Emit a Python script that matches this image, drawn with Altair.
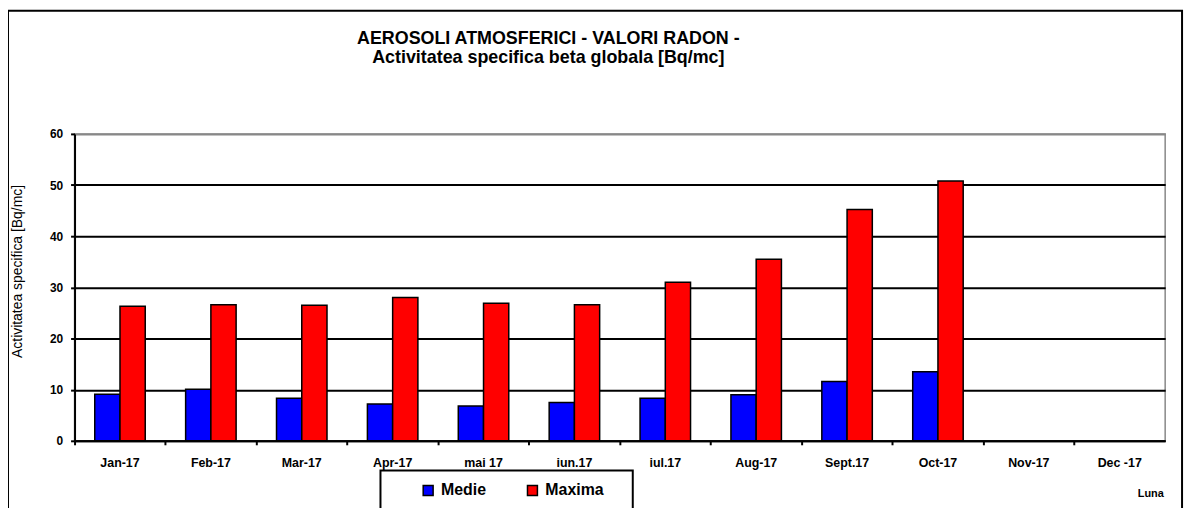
import altair as alt
import pandas as pd

months = ["Jan-17", "Feb-17", "Mar-17", "Apr-17", "mai 17", "iun.17",
          "iul.17", "Aug-17", "Sept.17", "Oct-17", "Nov-17", "Dec -17"]
medie = [9.1, 10.1, 8.3, 7.2, 6.8, 7.5, 8.3, 9.0, 11.6, 13.5, None, None]
maxima = [26.3, 26.6, 26.5, 28.0, 26.9, 26.6, 31.0, 35.5, 45.2, 50.8, None, None]
series = ["Medie", "Maxima"]
colors = ["#0000FF", "#FF0000"]
y_ticks = [0, 10, 20, 30, 40, 50, 60]

rows = []
for m, a, b in zip(months, medie, maxima):
    rows.append({"Luna": m, "Serie": "Medie", "Valoare": a})
    rows.append({"Luna": m, "Serie": "Maxima", "Valoare": b})
df = pd.DataFrame(rows)

FONT = "Liberation Sans"
W, H = 1098, 309

bars = alt.Chart(df).mark_bar(stroke="black", strokeWidth=1.5).encode(
    x=alt.X("Luna:N", sort=months,
            scale=alt.Scale(domain=months, paddingInner=0, paddingOuter=0),
            axis=alt.Axis(title="Luna", labelAngle=0, bandPosition=0,
                          labelFont=FONT, labelFontSize=12.5, labelFontWeight="bold",
                          labelColor="black", labelPadding=12,
                          domainColor="black", domainWidth=2,
                          tickColor="black", tickWidth=2, tickSize=4,
                          titleFont=FONT, titleFontSize=11, titleFontWeight="bold",
                          titleColor="black", titleX=1083, titleY=53,
                          titleAlign="center", titleBaseline="middle")),
    xOffset=alt.XOffset("Serie:N", sort=series,
                        scale=alt.Scale(domain=series, paddingOuter=0.8, paddingInner=0)),
    y=alt.Y("Valoare:Q",
            scale=alt.Scale(domain=[0, 60], nice=False),
            axis=alt.Axis(title="Activitatea specifica  [Bq/mc]", values=y_ticks,
                          labelFont=FONT, labelFontSize=12, labelFontWeight="bold",
                          labelColor="black", labelPadding=8,
                          domainColor="black", domainWidth=2,
                          tickColor="black", tickWidth=2, tickSize=4,
                          grid=True, gridWidth=2,
                          gridColor={"condition": {"test": "datum.value == 60", "value": "#888888"},
                                     "value": "black"},
                          titleFont=FONT, titleFontSize=14, titleFontWeight="normal",
                          titleColor="black", titleX=-57, titleY=138, titleAngle=-90,
                          titleAlign="center", titleBaseline="middle")),
    color=alt.Color("Serie:N", sort=series,
                    scale=alt.Scale(domain=series, range=colors),
                    legend=alt.Legend(title=None, orient="none", direction="horizontal",
                                      legendX=348, legendY=351, padding=0,
                                      symbolType="square", symbolSize=100,
                                      symbolStrokeColor="black", symbolStrokeWidth=1.5,
                                      labelFont=FONT, labelFontSize=16, labelFontWeight="bold",
                                      labelColor="black", labelOffset=5,
                                      columnPadding=38)),
)

frame = alt.Chart(alt.Data(values=[{"k": 1}])).mark_rect(
    fill=None, stroke="black", strokeWidth=2
).encode(x=alt.value(-67), x2=alt.value(1115), y=alt.value(-124), y2=alt.value(440))

legend_box = alt.Chart(alt.Data(values=[{"k": 1}])).mark_rect(
    fill="white", stroke="black", strokeWidth=2
).encode(x=alt.value(308), x2=alt.value(562), y=alt.value(339), y2=alt.value(440))

chart = alt.layer(frame, legend_box, bars).properties(
    width=W, height=H,
    title=alt.TitleParams(
        text=["AEROSOLI ATMOSFERICI - VALORI RADON -",
              "Activitatea specifica beta globala [Bq/mc]"],
        font=FONT, fontSize=18, fontWeight="bold", color="black",
        lineHeight=20, anchor="middle", dx=-72, offset=-58),
    autosize=alt.AutoSizeParams(type="none"),
    padding={"left": 67, "top": 125, "right": 24, "bottom": 80},
).configure_view(stroke="#888888", strokeWidth=1.5)

chart.save("out.html", embed_options={"renderer": "svg", "actions": False})
